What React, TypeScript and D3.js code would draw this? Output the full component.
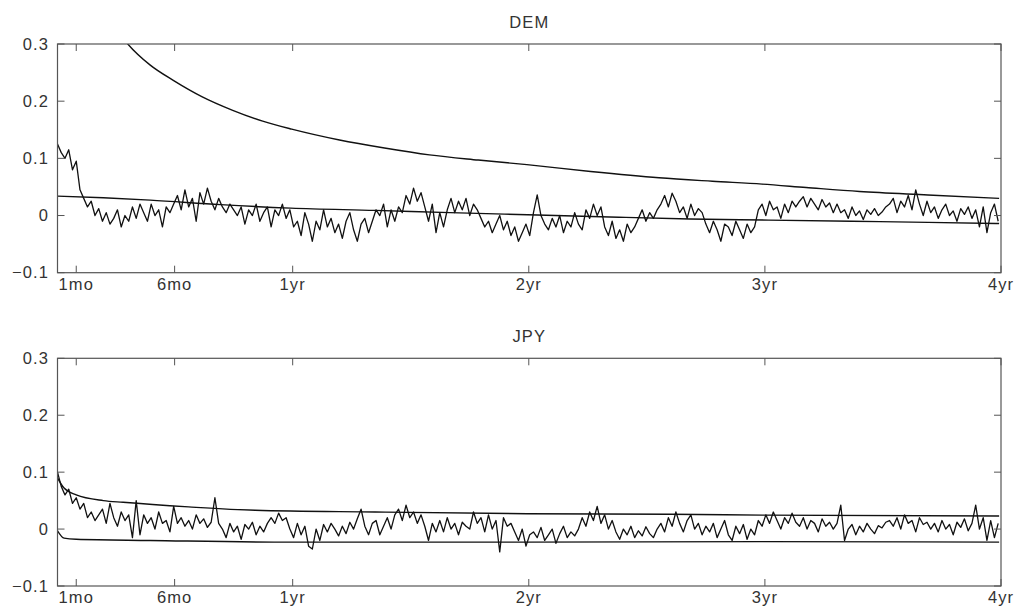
import React from "react";
import * as d3 from "d3";

// ---------- data ----------
const DAY_STEP = 4; // sample spacing (trading days) of the noisy series
const xTickDays = [21, 126, 252, 504, 756, 1008];
const xTickLabels = ["1mo", "6mo", "1yr", "2yr", "3yr", "4yr"];
const yTicks = [-0.1, 0, 0.1, 0.2, 0.3];
const yTickLabels = ["\u22120.1", "0", "0.1", "0.2", "0.3"];
const panelTitles = ["DEM", "JPY"];

const demSeries = [
  0.125, 0.11, 0.1, 0.115, 0.08, 0.095, 0.045,
  0.03, 0.015, 0.025, 0.0, 0.012,
  -0.01, 0.005, -0.015, -0.005, 0.01, -0.02, 0.0, -0.01,
  0.015, -0.005, 0.02, 0.005, -0.01, 0.02, 0.0, 0.01, -0.02, 0.015, 0.005, 0.02,
  0.035, 0.01, 0.045, 0.015, 0.03, -0.01, 0.04, 0.02, 0.048,
  0.025, 0.01, 0.03, 0.015, 0.005, 0.02, 0.01, 0.0,
  0.015, -0.015, 0.01, 0.0, 0.02, -0.01, 0.005, 0.015, -0.02, 0.01, 0.0, 0.02, -0.005, 0.01,
  -0.02, -0.01, -0.035, 0.005, -0.015, -0.045, -0.01, -0.025, 0.01, -0.02, -0.005, -0.03,
  -0.015, -0.04, -0.01, 0.005, -0.025, -0.045, -0.015, -0.005, -0.03, -0.01, 0.01,
  0.0, 0.02, -0.02, 0.01, -0.01, 0.015, 0.005,
  0.035, 0.02, 0.048, 0.025, 0.04,
  0.015, -0.01, 0.02, -0.03, 0.005, -0.02, 0.01,
  0.03, 0.005, 0.025, 0.01, 0.03, 0.0, 0.02, 0.01,
  -0.005, -0.02, -0.01, -0.03, -0.015, 0.0, -0.025, -0.01, -0.035, -0.02, -0.045, -0.03, -0.015, -0.035,
  0.005, 0.036, 0.0,
  -0.015, -0.025, -0.005, -0.02, 0.0, -0.03, -0.01, -0.02, 0.005, -0.015, -0.025,
  0.01, -0.005, 0.02, 0.0, 0.015,
  -0.02, -0.035, -0.01, -0.04, -0.025, -0.045, -0.015, -0.03, -0.02,
  -0.005, 0.01, -0.01, 0.005, -0.005, 0.01,
  0.02, 0.035, 0.015, 0.039, 0.025,
  0.005, 0.015, -0.005, 0.02, 0.0, 0.012, 0.005,
  -0.015, -0.03, -0.01, -0.025, -0.045, -0.015, -0.02, -0.035, -0.01, -0.025, -0.04, -0.015, -0.03, -0.02,
  0.01, 0.02, 0.0, 0.025, 0.01, 0.015, -0.005, 0.02, 0.005, 0.025, 0.015,
  0.025, 0.033, 0.015, 0.03, 0.02, 0.01, 0.028, 0.015, 0.022, 0.005, 0.02,
  0.005, 0.01, -0.005, 0.015, 0.0, 0.008, -0.007, 0.01, 0.002, 0.012, 0.0, 0.006, 0.015,
  0.02, 0.03, 0.005, 0.025, 0.015, 0.035, 0.01, 0.045, 0.02, 0.0, 0.025,
  0.005, 0.015, -0.005, 0.01, 0.02, 0.0, 0.008, -0.01, 0.012, 0.002, 0.015, -0.005, 0.01,
  -0.02, 0.015, -0.03, 0.005, 0.02, -0.01,
];

const jpySeries = [
  0.1, 0.075,
  0.06, 0.07, 0.045, 0.055,
  0.035, 0.045, 0.02, 0.03, 0.015, 0.025,
  0.035, 0.01, 0.045, 0.02, 0.005, 0.03, 0.015, 0.025,
  -0.015, 0.05, -0.01, 0.025,
  0.01, 0.02, 0.0, 0.03, 0.01, 0.015, -0.005, 0.04, 0.01, 0.02, 0.005, 0.015, 0.0, 0.025, 0.01, 0.018, 0.003, 0.012,
  0.055, 0.01,
  0.0, -0.015, 0.01, -0.005, 0.005, -0.018, 0.008, 0.0, 0.012, -0.01, 0.005, -0.005, 0.01,
  0.02, 0.01, 0.028, 0.015, 0.02,
  0.0, -0.015, 0.01, -0.01, 0.005, -0.03, -0.035, 0.0, -0.02, 0.008, -0.005, 0.01, 0.0, -0.012,
  0.005, -0.008, 0.012, 0.0, 0.018, 0.035, 0.005, -0.01, 0.01,
  0.015, -0.01, 0.005, 0.02, 0.0,
  0.025, 0.035, 0.015, 0.042, 0.02, 0.03, 0.01, 0.025,
  0.005, -0.02, 0.01, -0.005,
  0.015, -0.005, 0.02, 0.0, 0.01, -0.01, 0.012, 0.005, 0.0,
  0.03, 0.01, 0.02, -0.005, 0.025, 0.0, 0.015, -0.04, 0.02, 0.005, 0.01,
  -0.005, -0.02, 0.0, -0.03, -0.01, -0.005, -0.015, 0.003, -0.02, -0.01, 0.0, -0.025, -0.008, 0.005, -0.015, -0.005, -0.012, 0.0,
  0.02, 0.005, 0.03, 0.015, 0.04, 0.01, 0.025, 0.0, 0.015,
  -0.005, -0.018, 0.0, -0.01, 0.005, -0.015, -0.003, -0.012, 0.004, -0.008, -0.015, 0.0,
  0.01, -0.005, 0.02, 0.005, 0.03, 0.01, -0.005, 0.015, 0.025,
  0.0, 0.01, -0.01, 0.005, -0.005,
  0.01, -0.015, 0.0, 0.015, -0.01, -0.02, 0.005, -0.008, 0.008, -0.018, 0.0, -0.01,
  0.015, 0.005, 0.025, 0.01, 0.03, 0.015, 0.0, 0.02, 0.01, 0.028, 0.012,
  0.005, 0.02, 0.0, 0.015, 0.01, -0.005, 0.018, 0.005, 0.012, 0.0, 0.01,
  0.042, -0.02,
  0.0, 0.008, -0.01, 0.005, -0.005, 0.01, 0.0, -0.008, 0.006, 0.002, 0.012,
  0.015, 0.005, 0.02, 0.0, 0.025, 0.01, 0.015, -0.005, 0.02, 0.008, 0.012, 0.0,
  0.01, -0.005, 0.015, 0.0, 0.008, -0.01, 0.012, 0.003, 0.018, -0.003, 0.01, 0.042, 0.0,
  0.02, -0.02, 0.015, -0.015, 0.01,
];

const demUpperDays = [30, 50, 76, 100, 125, 155, 188, 220, 251, 302, 350, 398, 450, 502, 570, 643, 700, 753, 800, 857, 930, 1006];
const demUpperVals = [0.42, 0.36, 0.3, 0.263, 0.236, 0.208, 0.184, 0.165, 0.151, 0.132, 0.118, 0.106, 0.097, 0.089, 0.077, 0.066, 0.06, 0.055, 0.049, 0.042, 0.036, 0.03];
const demLowerDays = [1, 50, 100, 175, 250, 340, 420, 513, 600, 676, 760, 849, 930, 1006];
const demLowerVals = [0.034, 0.031, 0.027, 0.019, 0.013, 0.009, 0.005, 0.001, -0.003, -0.006, -0.008, -0.01, -0.012, -0.014];

const jpyUpperDays = [1, 8, 21, 50, 71, 141, 212, 340, 502, 655, 753, 1006];
const jpyUpperVals = [0.09, 0.072, 0.06, 0.05, 0.047, 0.039, 0.033, 0.03, 0.027, 0.026, 0.0245, 0.023];
const jpyLowerDays = [1, 8, 21, 100, 250, 500, 750, 1006];
const jpyLowerVals = [-0.003, -0.016, -0.018, -0.02, -0.023, -0.023, -0.022, -0.023];

// ---------- layout ----------
const W = 1016;
const H = 616;
const X0 = 57.5;
const X1 = 1001;
const panels = [
  { top: 44, bottom: 272.7, series: demSeries, upD: demUpperDays, upV: demUpperVals, loD: demLowerDays, loV: demLowerVals },
  { top: 358.3, bottom: 586, series: jpySeries, upD: jpyUpperDays, upV: jpyUpperVals, loD: jpyLowerDays, loV: jpyLowerVals },
];
const FONT = "'Liberation Sans', Arial, Helvetica, sans-serif";
const FS = 16.5;
const LS = 1.1;
const TEXT = "#333";
const AXIS = "#555";
const LINE = "#111";
const TICK = 7;

type P = { d: number; v: number };

function Panel({ idx }: { idx: number }) {
  const p = panels[idx];
  const x = d3.scaleLinear().domain([1, 1008]).range([X0, X1]);
  const y = d3.scaleLinear().domain([-0.1, 0.3]).range([p.bottom, p.top]);
  const line = d3.line<P>().x((d) => x(d.d)).y((d) => y(d.v));
  const smooth = d3.line<P>().x((d) => x(d.d)).y((d) => y(d.v)).curve(d3.curveMonotoneX);
  const noisy: P[] = p.series.map((v, i) => ({ d: 1 + i * DAY_STEP, v }));
  const up: P[] = p.upD.map((d, i) => ({ d, v: p.upV[i] }));
  const lo: P[] = p.loD.map((d, i) => ({ d, v: p.loV[i] }));
  const clipId = `clip-${idx}`;
  const titleY = idx === 0 ? 28 : 342;
  const textProps = { fontSize: FS, fontFamily: FONT, fill: TEXT, letterSpacing: LS };
  return (
    <g>
      <defs>
        <clipPath id={clipId}>
          <rect x={X0} y={p.top} width={X1 - X0} height={p.bottom - p.top} />
        </clipPath>
      </defs>
      <text x={(X0 + X1) / 2} y={titleY} textAnchor="middle" {...textProps}>
        {panelTitles[idx]}
      </text>
      <g clipPath={`url(#${clipId})`} fill="none" stroke={LINE}>
        <path d={smooth(up) || ""} strokeWidth={1.4} />
        <path d={smooth(lo) || ""} strokeWidth={1.4} />
        <path d={line(noisy) || ""} strokeWidth={1.3} strokeLinejoin="round" />
      </g>
      <rect x={X0} y={p.top} width={X1 - X0} height={p.bottom - p.top} fill="none" stroke={AXIS} strokeWidth={1.2} />
      {xTickDays.map((d, i) => (
        <g key={`xt${i}`}>
          <line x1={x(d)} x2={x(d)} y1={p.bottom} y2={p.bottom - TICK} stroke={AXIS} />
          <line x1={x(d)} x2={x(d)} y1={p.top} y2={p.top + TICK} stroke={AXIS} />
          <text x={x(d)} y={p.bottom + 17} textAnchor="middle" {...textProps}>
            {xTickLabels[i]}
          </text>
        </g>
      ))}
      {yTicks.map((t, i) => (
        <g key={`yt${i}`}>
          <line x1={X0} x2={X0 + TICK} y1={y(t)} y2={y(t)} stroke={AXIS} />
          <line x1={X1} x2={X1 - TICK} y1={y(t)} y2={y(t)} stroke={AXIS} />
          <text x={49} y={y(t)} dy="0.35em" textAnchor="end" {...textProps}>
            {yTickLabels[i]}
          </text>
        </g>
      ))}
    </g>
  );
}

export default function App() {
  return (
    <svg width={W} height={H} style={{ position: "absolute", left: 0, top: 0, background: "#fff" }}>
      <rect x={0} y={0} width={W} height={H} fill="#fff" />
      <Panel idx={0} />
      <Panel idx={1} />
    </svg>
  );
}
